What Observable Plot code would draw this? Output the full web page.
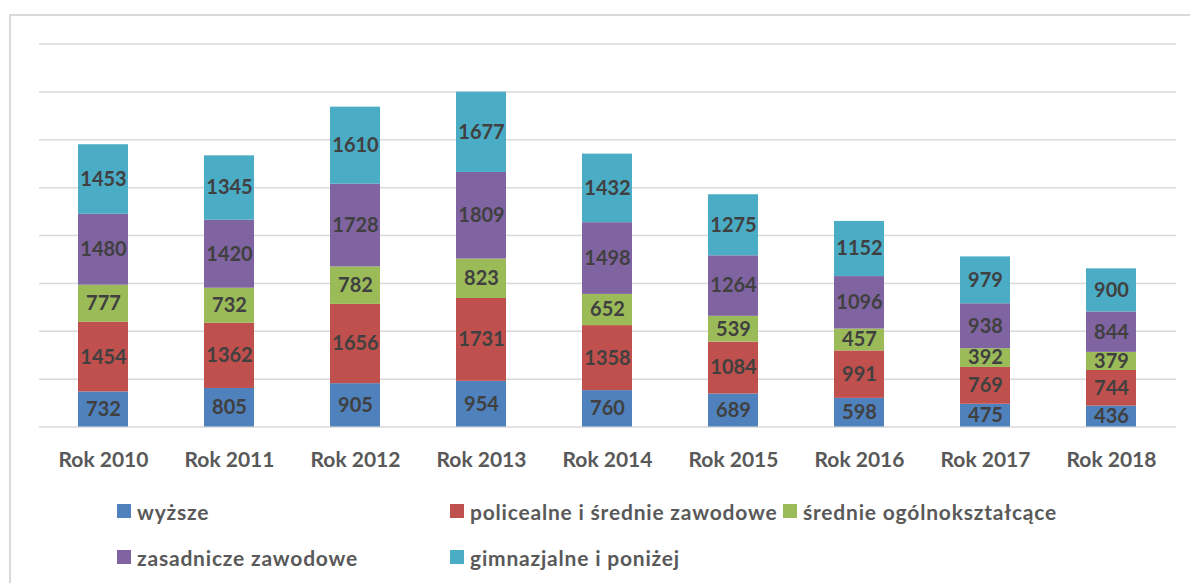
<!DOCTYPE html>
<html>
<head>
<meta charset="utf-8">
<script src="https://cdn.jsdelivr.net/npm/d3@7"></script>
<script src="https://cdn.jsdelivr.net/npm/@observablehq/plot@0.6"></script>
<style>
  html, body { margin: 0; padding: 0; background: #fff; }
  #wrap { position: relative; width: 1190px; height: 583px; overflow: hidden; font-family: Lato, "Open Sans", sans-serif; }
  #frame { position: absolute; left: 9px; top: 14px; width: 1200px; height: 600px; border: 2px solid #d9d9d9; box-sizing: border-box; }
  #chart { position: absolute; left: 0; top: 0; }
  .leg { position: absolute; height: 22px; display: flex; align-items: center; font-weight: bold; font-size: 21px; letter-spacing: 0.8px; color: #595959; white-space: nowrap; }
  .leg .sw { width: 14px; height: 14px; margin-right: 6px; }
</style>
</head>
<body>
<div id="wrap">
  <div id="frame"></div>
  <div id="chart"></div>
  <div id="legend"></div>
</div>
<script>
const years = ["Rok 2010","Rok 2011","Rok 2012","Rok 2013","Rok 2014","Rok 2015","Rok 2016","Rok 2017","Rok 2018"];
const seriesNames = ["wyższe","policealne i średnie zawodowe","średnie ogólnokształcące","zasadnicze zawodowe","gimnazjalne i poniżej"];
const colors = ["#4F81BD","#C0504D","#9BBB59","#8064A2","#4BACC6"];
const wyzsze      = [732, 805, 905, 954, 760, 689, 598, 475, 436];
const policealne  = [1454, 1362, 1656, 1731, 1358, 1084, 991, 769, 744];
const srednieOgol = [777, 732, 782, 823, 652, 539, 457, 392, 379];
const zasadnicze  = [1480, 1420, 1728, 1809, 1498, 1264, 1096, 938, 844];
const gimnazjalne = [1453, 1345, 1610, 1677, 1432, 1275, 1152, 979, 900];
const gridValues  = [0, 1000, 2000, 3000, 4000, 5000, 6000, 7000, 8000];

const seriesValues = [wyzsze, policealne, srednieOgol, zasadnicze, gimnazjalne];
const data = [];
seriesNames.forEach((s, si) => {
  years.forEach((y, yi) => data.push({year: y, series: s, si, value: seriesValues[si][yi]}));
});

const chart = Plot.plot({
  width: 1190,
  height: 470,
  marginLeft: 39,
  marginRight: 14,
  marginTop: 43.5,
  marginBottom: 43.5,
  style: {fontFamily: "Lato, 'Open Sans', sans-serif", background: "transparent"},
  x: {domain: years, paddingInner: 0.6, paddingOuter: 0.3, axis: null, label: null},
  y: {domain: [0, 8000], axis: null},
  color: {domain: seriesNames, range: colors},
  marks: [
    Plot.ruleY(gridValues, {stroke: "#d9d9d9", strokeWidth: 1.5}),
    Plot.barY(data, {x: "year", y: "value", z: "series", fill: "series", order: null}),
    Plot.text(data, Plot.stackY({x: "year", y: "value", z: "series", order: null, text: d => String(d.value), fill: "#404040", fontWeight: "bold", fontSize: 20})),
    Plot.axisX({tickSize: 0, tickPadding: 25, fontSize: 21, fontWeight: "bold", fill: "#595959", label: null})
  ]
});
document.getElementById("chart").appendChild(chart);

const legPos = [[117, 500], [450, 500], [783, 500], [117, 546], [450, 546]];
const legend = document.getElementById("legend");
seriesNames.forEach((s, i) => {
  const d = document.createElement("div");
  d.className = "leg";
  d.style.left = legPos[i][0] + "px";
  d.style.top = legPos[i][1] + "px";
  const sw = document.createElement("span");
  sw.className = "sw";
  sw.style.background = colors[i];
  const t = document.createElement("span");
  t.textContent = s;
  d.appendChild(sw); d.appendChild(t);
  legend.appendChild(d);
});
</script>
</body>
</html>
